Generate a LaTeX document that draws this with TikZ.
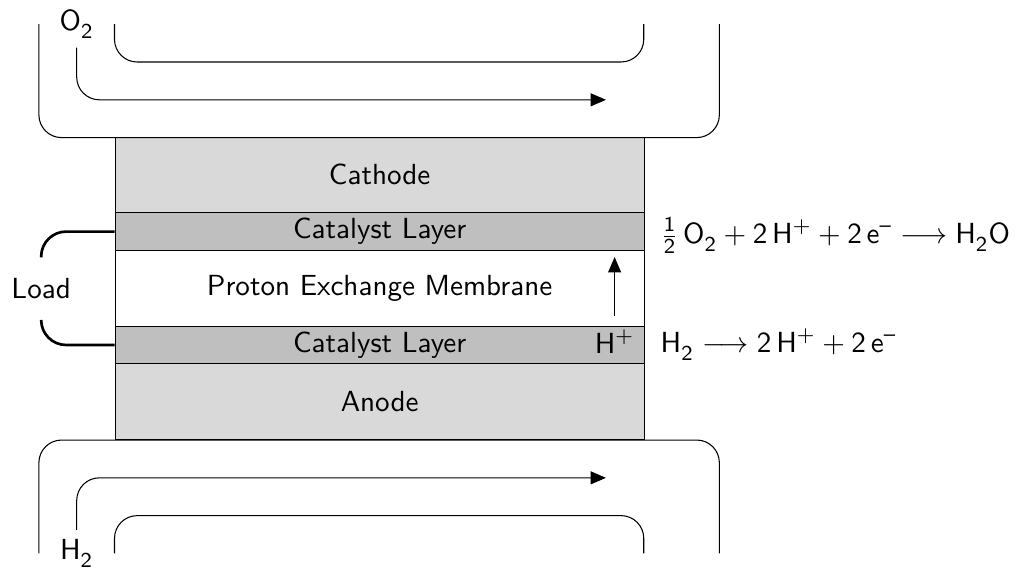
\documentclass[tikz,border=0pt]{standalone}
\usepackage{amsmath}
\usetikzlibrary{arrows.meta}
% chemical formula helpers: lowered subscripts and a short charge dash
\newcommand{\chsub}[2]{\mathsf{#1}^{}_{\mathsf{#2}}}
\newcommand{\chneg}{^{\textsf{--}}}
\begin{document}
\begin{tikzpicture}[
  font=\sffamily\fontsize{10.95pt}{13.6pt}\selectfont,
  layer/.style={draw, minimum width=7cm, inner sep=0pt, anchor=south west},
  channel/.style={draw, rounded corners=0.3cm},
  flow/.style={-{Triangle[length=5.8pt,width=4.9pt]}, rounded corners=0.3cm},
  wire/.style={line width=1pt, rounded corners=0.33cm},
]
\useasboundingbox (-1.5146,-1.693) rectangle (11.937,5.820);

% membrane electrode stack
\node[layer, fill=black!15, minimum height=1cm]   (anode)   at (0,0)   {Anode};
\node[layer, fill=black!25, minimum height=0.5cm] (catlow)  at (0,1)   {Catalyst Layer};
\node[layer, minimum height=1cm]                  (pem)     at (0,1.5) {Proton Exchange Membrane};
\node[layer, fill=black!25, minimum height=0.5cm] (catup)   at (0,2.5) {Catalyst Layer};
\node[layer, fill=black!15, minimum height=1cm]   (cathode) at (0,3)   {Cathode};

% oxygen channel above the cathode
\draw[channel] (-1,5.5) -- (-1,4) -- (8,4) -- (8,5.5);
\draw[channel] (0,5.5) -- (0,5) -- (7,5) -- (7,5.5);
\node (o2) at (-0.5,5.5) {$\chsub{O}{2}$};
\draw[flow] (o2.south) |- (6.5,4.5);

% hydrogen channel below the anode
\draw[channel] (-1,-1.5) -- (-1,0) -- (8,0) -- (8,-1.5);
\draw[channel] (0,-1.5) -- (0,-1) -- (7,-1) -- (7,-1.5);
\node (h2) at (-0.5,-1.5) {$\chsub{H}{2}$};
\draw[flow] (h2.north) |- (6.5,-0.5);

% proton transport through the membrane
\node[anchor=base east] (hp) at (7,1.15) {$\mathsf{H}^{+}$};
\draw[flow] ([yshift=1.5pt]hp.north) -- (hp.north |- 0,2.42);

% external circuit
\node[minimum height=0.82cm, inner sep=0pt] (load) at (-0.97,2) {Load};
\draw[wire] (catup.west) -| (load.north);
\draw[wire] (catlow.west) -| (load.south);

% half reactions
\node[anchor=base west] (eqc) at (7.1,2.60)
  {$\frac{\mathsf{1}}{\mathsf{2}}\,\chsub{O}{2} + \mathsf{2}\,\mathsf{H}^{+} + \mathsf{2}\,\mathsf{e}\chneg \longrightarrow \chsub{H}{2}\mathsf{O}$};
\node[anchor=base west] (eqa) at (7.1,1.16)
  {$\chsub{H}{2} \longrightarrow \mathsf{2}\,\mathsf{H}^{+} + \mathsf{2}\,\mathsf{e}\chneg$};
\end{tikzpicture}
\end{document}
